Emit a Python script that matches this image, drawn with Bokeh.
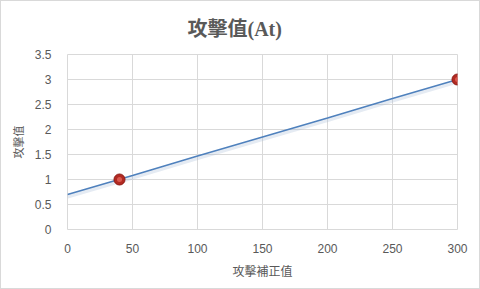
from bokeh.plotting import figure
from bokeh.models import Range1d, FixedTicker, Title
from bokeh.embed import file_html
from bokeh.resources import INLINE

# Data
line_x = [0, 50, 100, 150, 200, 250, 300]
line_y = [0.70, 1.08, 1.47, 1.85, 2.23, 2.62, 3.00]
point_x = [40, 300]
point_y = [1.0, 3.0]
x_ticks = [0, 50, 100, 150, 200, 250, 300]
y_ticks = [0, 0.5, 1, 1.5, 2, 2.5, 3, 3.5]
title_text = "攻擊值(At)"
x_label = "攻擊補正值"
y_label = "攻擊值"

GRID = "#d9d9d9"
TXT = "#595959"
CJK = "Noto Sans CJK TC"
W, H = 480, 289
ML, MR, MT, MB = 66, 24, 53, 61

p = figure(width=W, height=H, output_backend="svg", toolbar_location=None,
           x_range=Range1d(0, 300), y_range=Range1d(0, 3.5),
           min_border_left=ML, min_border_right=MR, min_border_top=MT, min_border_bottom=MB,
           styles={"border": "1px solid #d9d9d9", "box-sizing": "border-box"})
p.title = Title(text=title_text, align="left", text_font="'Liberation Serif', 'Noto Sans CJK TC'",
                text_font_style="bold", text_font_size="20px", text_color=TXT,
                offset=120, standoff=29)
p.outline_line_color = GRID
p.background_fill_color = "white"
p.border_fill_color = "white"

for ax in (p.xaxis[0], p.yaxis[0]):
    ax.axis_line_color = None
    ax.major_tick_line_color = None
    ax.minor_tick_line_color = None
    ax.major_label_text_font = "Liberation Sans"
    ax.major_label_text_font_size = "12px"
    ax.major_label_text_color = TXT
    ax.axis_label_text_font = CJK
    ax.axis_label_text_font_style = "normal"
    ax.axis_label_text_color = TXT

p.xaxis.ticker = FixedTicker(ticks=x_ticks)
p.yaxis.ticker = FixedTicker(ticks=y_ticks)
p.xaxis.major_label_standoff = 8
p.yaxis.major_label_standoff = 10
p.xaxis.axis_label = x_label
p.yaxis.axis_label = y_label
p.xaxis.axis_label_text_font_size = "12px"
p.yaxis.axis_label_text_font_size = "11px"
p.xaxis.axis_label_standoff = 6
p.yaxis.axis_label_standoff = 6

p.xgrid.grid_line_color = GRID
p.ygrid.grid_line_color = GRID
p.xgrid.ticker = FixedTicker(ticks=x_ticks)
p.ygrid.ticker = FixedTicker(ticks=y_ticks)

# line shadow
p.line(line_x, [y - 0.04 for y in line_y], line_color="#a9bcd6",
       line_width=4, line_alpha=0.3)
p.line(line_x, line_y, line_color="#4f81bd", line_width=1.5)

# red sphere markers
p.scatter(point_x, point_y, size=11, fill_color="#b22a22", line_color="#8e1b16", line_width=1)
p.scatter(point_x, point_y, size=5, fill_color="#e5645a", line_color=None, fill_alpha=0.8)

open("out.html", "w").write(file_html(p, INLINE))
